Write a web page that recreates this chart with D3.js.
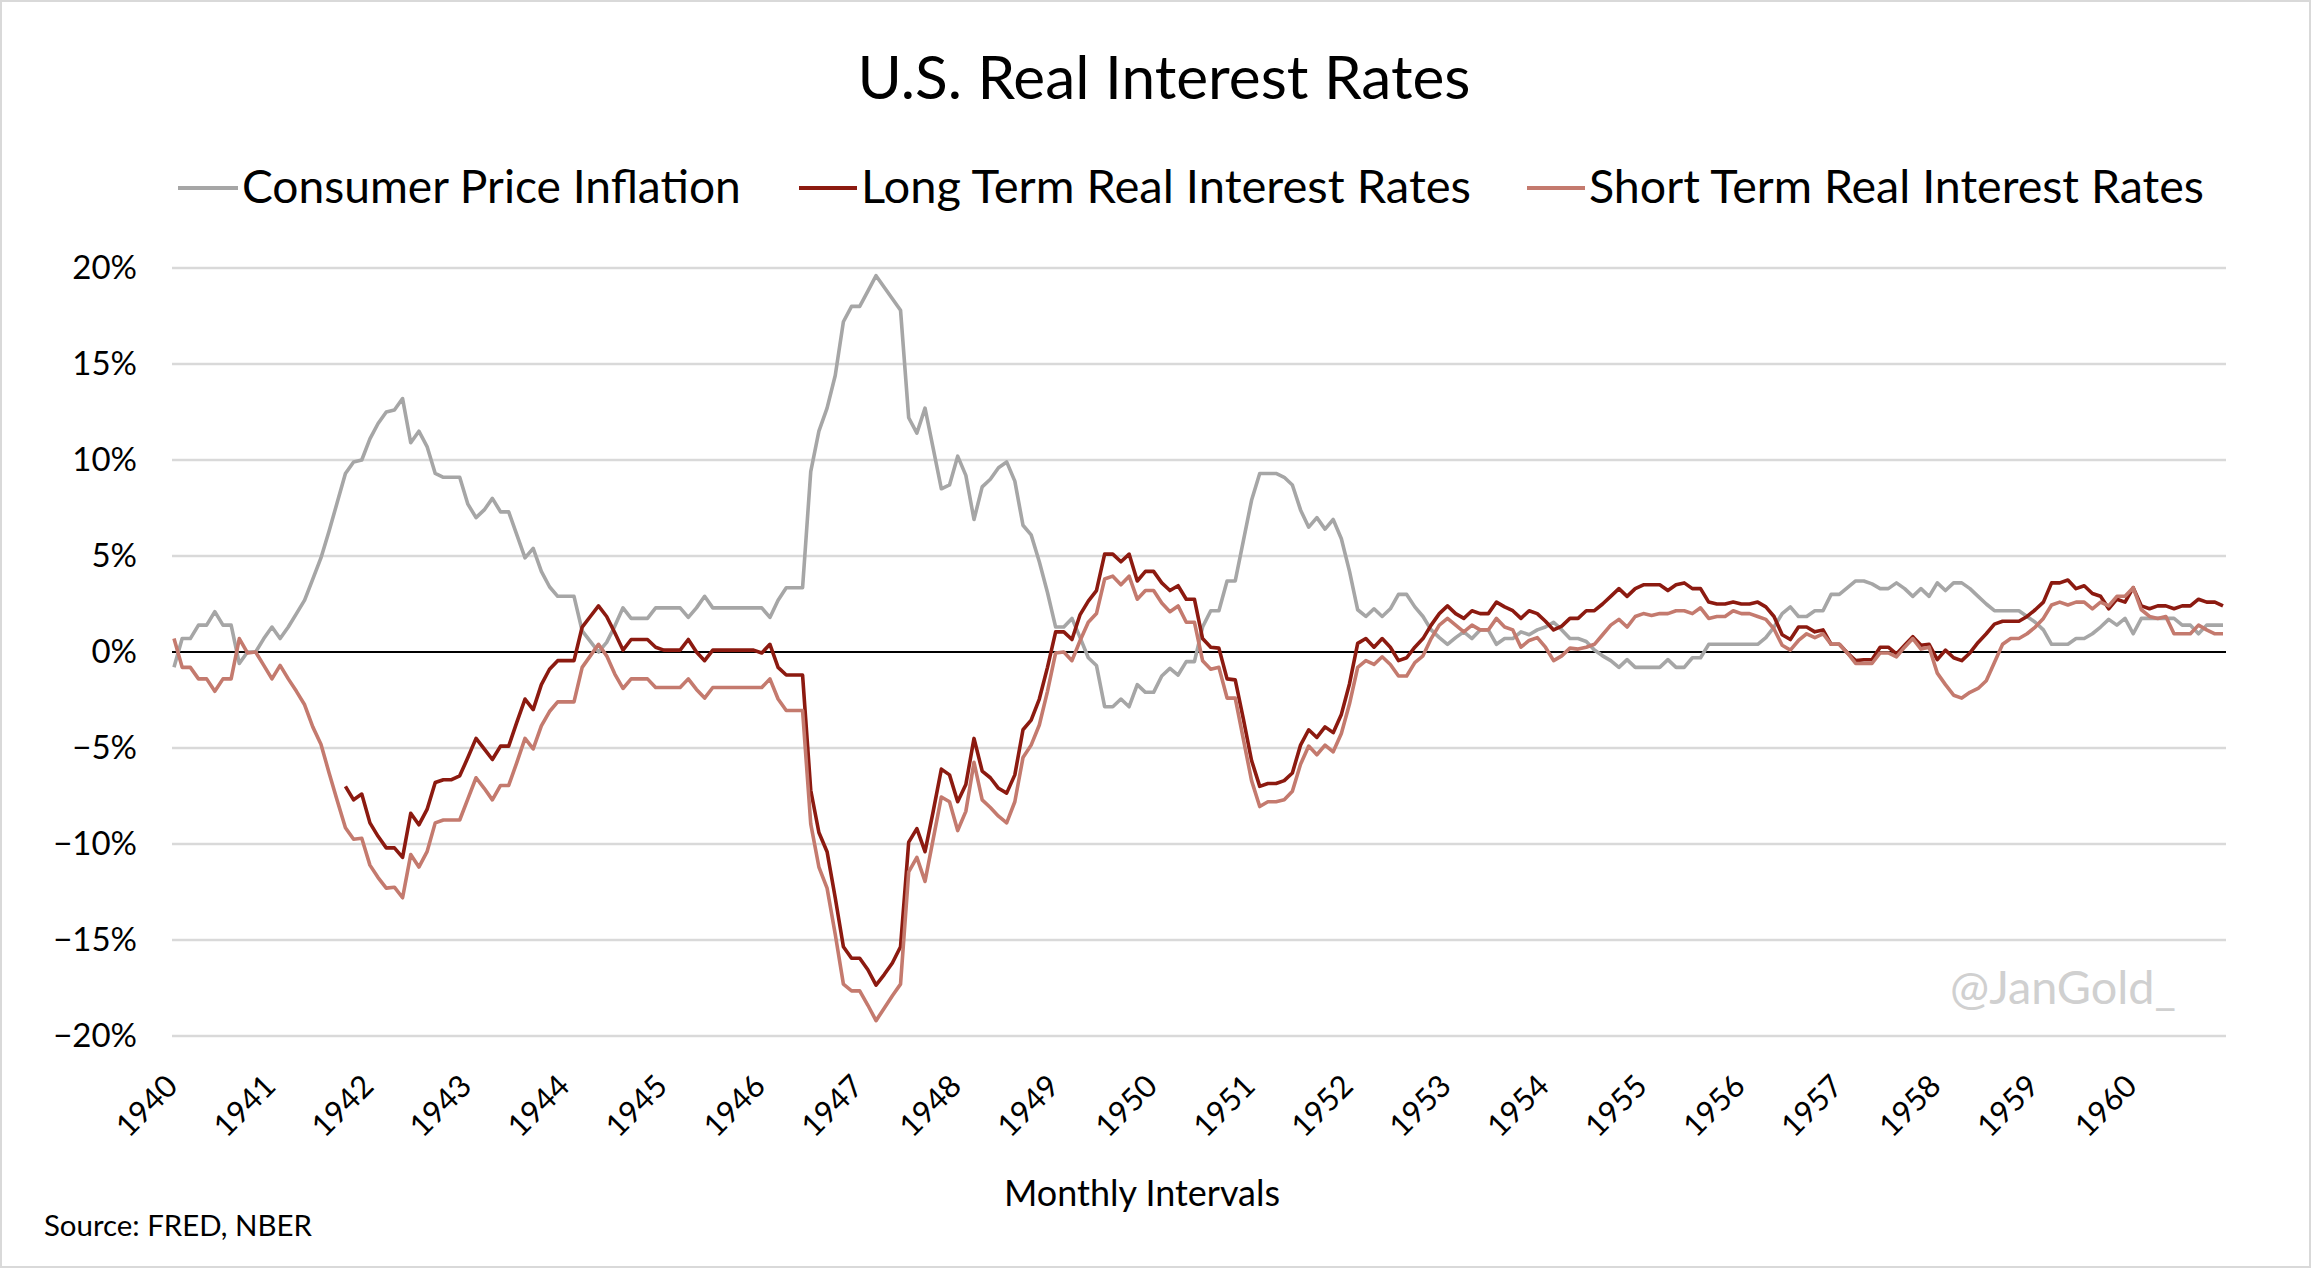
<!DOCTYPE html>
<html>
<head>
<meta charset="utf-8">
<script src="https://cdn.jsdelivr.net/npm/d3@7"></script>
<style>
  body { margin: 0; background: #fff; }
  svg { display: block; font-family: Lato, "Open Sans", sans-serif; }
</style>
</head>
<body>
<div id="chart"></div>
<script>
// monthly values, Jan 1940 .. Dec 1960 (percent)
const yearLabels = ["1940","1941","1942","1943","1944","1945","1946","1947","1948","1949","1950",
  "1951","1952","1953","1954","1955","1956","1957","1958","1959","1960"];

const cpiInflation = [
  -0.8, 0.7, 0.7, 1.4, 1.4, 2.1, 1.4, 1.4, -0.6, 0.0,
  0.0, 0.7, 1.3, 0.7, 1.3, 2.0, 2.7, 3.8, 4.9, 6.3,
  7.8, 9.3, 9.9, 10.0, 11.1, 11.9, 12.5, 12.6, 13.2, 10.9,
  11.5, 10.7, 9.3, 9.1, 9.1, 9.1, 7.7, 7.0, 7.4, 8.0,
  7.3, 7.3, 6.1, 4.9, 5.4, 4.2, 3.4, 2.9, 2.9, 2.9,
  1.1, 0.55, 0.0, 0.5, 1.35, 2.3, 1.75, 1.75, 1.75, 2.3,
  2.3, 2.3, 2.3, 1.8, 2.3, 2.9, 2.3, 2.3, 2.3, 2.3,
  2.3, 2.3, 2.3, 1.8, 2.7, 3.35, 3.35, 3.35, 9.4, 11.5,
  12.7, 14.4, 17.2, 18.0, 18.0, 18.8, 19.6, 19.0, 18.4, 17.8,
  12.2, 11.4, 12.7, 10.6, 8.5, 8.7, 10.2, 9.2, 6.9, 8.6,
  9.0, 9.6, 9.9, 8.9, 6.6, 6.1, 4.7, 3.1, 1.3, 1.3,
  1.75, 0.75, -0.3, -0.7, -2.85, -2.85, -2.45, -2.85, -1.7, -2.1,
  -2.1, -1.25, -0.85, -1.2, -0.5, -0.5, 1.3, 2.15, 2.15, 3.7,
  3.7, 5.8, 7.9, 9.3, 9.3, 9.3, 9.1, 8.7, 7.4, 6.5,
  7.0, 6.4, 6.9, 5.9, 4.2, 2.2, 1.85, 2.25, 1.85, 2.25,
  3.0, 3.0, 2.35, 1.85, 1.15, 0.75, 0.4, 0.75, 1.05, 0.7,
  1.15, 1.15, 0.4, 0.7, 0.7, 1.05, 0.9, 1.15, 1.3, 1.55,
  1.15, 0.7, 0.7, 0.55, 0.1, -0.2, -0.45, -0.8, -0.4, -0.8,
  -0.8, -0.8, -0.8, -0.4, -0.8, -0.8, -0.3, -0.3, 0.4, 0.4,
  0.4, 0.4, 0.4, 0.4, 0.4, 0.75, 1.3, 2.0, 2.35, 1.85,
  1.85, 2.15, 2.15, 3.0, 3.0, 3.35, 3.7, 3.7, 3.55, 3.3,
  3.3, 3.6, 3.3, 2.9, 3.3, 2.9, 3.6, 3.2, 3.6, 3.6,
  3.3, 2.9, 2.5, 2.15, 2.15, 2.15, 2.15, 1.85, 1.55, 1.15,
  0.4, 0.4, 0.4, 0.7, 0.7, 0.95, 1.3, 1.7, 1.4, 1.75,
  0.95, 1.75, 1.75, 1.75, 1.75, 1.75, 1.4, 1.4, 0.95, 1.4,
  1.4, 1.4
];

const longTermReal = [
  null, null, null, null, null, null, null, null, null, null,
  null, null, null, null, null, null, null, null, null, null,
  null, -7.0, -7.7, -7.4, -8.9, -9.6, -10.2, -10.2, -10.7, -8.4,
  -9.0, -8.2, -6.8, -6.65, -6.65, -6.45, -5.5, -4.5, -5.05, -5.6,
  -4.9, -4.9, -3.65, -2.45, -3.0, -1.7, -0.9, -0.45, -0.45, -0.45,
  1.3, 1.85, 2.4, 1.85, 1.0, 0.1, 0.65, 0.65, 0.65, 0.25,
  0.1, 0.1, 0.1, 0.65, 0.0, -0.45, 0.1, 0.1, 0.1, 0.1,
  0.1, 0.1, -0.05, 0.4, -0.8, -1.2, -1.2, -1.2, -7.2, -9.4,
  -10.4, -12.8, -15.35, -15.95, -15.95, -16.55, -17.35, -16.8, -16.2, -15.35,
  -9.9, -9.2, -10.4, -8.3, -6.1, -6.4, -7.8, -6.9, -4.5, -6.2,
  -6.55, -7.1, -7.35, -6.4, -4.05, -3.55, -2.45, -0.8, 1.05, 1.05,
  0.65, 1.95, 2.65, 3.2, 5.1, 5.1, 4.7, 5.1, 3.7, 4.2,
  4.2, 3.6, 3.2, 3.45, 2.75, 2.75, 0.7, 0.25, 0.2, -1.4,
  -1.45, -3.5, -5.65, -7.0, -6.85, -6.85, -6.7, -6.3, -4.85, -4.05,
  -4.45, -3.9, -4.2, -3.25, -1.65, 0.45, 0.7, 0.25, 0.7, 0.25,
  -0.45, -0.3, 0.25, 0.7, 1.4, 2.0, 2.4, 2.0, 1.75, 2.15,
  2.0, 2.0, 2.6, 2.35, 2.15, 1.75, 2.15, 2.0, 1.6, 1.15,
  1.35, 1.75, 1.75, 2.15, 2.15, 2.5, 2.9, 3.3, 2.9, 3.3,
  3.5, 3.5, 3.5, 3.2, 3.5, 3.6, 3.3, 3.3, 2.6, 2.5,
  2.5, 2.6, 2.5, 2.5, 2.6, 2.35, 1.85, 0.9, 0.65, 1.3,
  1.3, 1.05, 1.15, 0.4, 0.4, -0.05, -0.45, -0.4, -0.4, 0.25,
  0.25, -0.1, 0.35, 0.8, 0.35, 0.4, -0.4, 0.1, -0.3, -0.45,
  -0.05, 0.5, 0.95, 1.45, 1.6, 1.6, 1.6, 1.85, 2.2, 2.6,
  3.6, 3.6, 3.75, 3.3, 3.45, 3.05, 2.9, 2.25, 2.75, 2.6,
  3.35, 2.4, 2.25, 2.4, 2.4, 2.25, 2.4, 2.4, 2.75, 2.6,
  2.6, 2.4
];

const shortTermReal = [
  0.7, -0.8, -0.8, -1.4, -1.4, -2.05, -1.4, -1.4, 0.7, -0.05,
  0.0, -0.7, -1.4, -0.7, -1.4, -2.05, -2.75, -3.9, -4.8, -6.3,
  -7.75, -9.15, -9.75, -9.7, -11.1, -11.75, -12.3, -12.25, -12.8, -10.55,
  -11.2, -10.4, -8.9, -8.75, -8.75, -8.75, -7.65, -6.55, -7.1, -7.7,
  -6.95, -6.95, -5.75, -4.5, -5.05, -3.85, -3.1, -2.6, -2.6, -2.6,
  -0.8, -0.2, 0.4, -0.2, -1.15, -1.9, -1.4, -1.4, -1.4, -1.85,
  -1.85, -1.85, -1.85, -1.4, -1.95, -2.4, -1.85, -1.85, -1.85, -1.85,
  -1.85, -1.85, -1.85, -1.4, -2.45, -3.05, -3.05, -3.05, -8.95, -11.2,
  -12.3, -14.7, -17.3, -17.65, -17.65, -18.4, -19.2, -18.55, -17.9, -17.3,
  -11.45, -10.7, -11.95, -9.75, -7.55, -7.8, -9.3, -8.3, -5.75, -7.7,
  -8.1, -8.55, -8.9, -7.8, -5.5, -4.85, -3.8, -2.05, -0.05, 0.0,
  -0.45, 0.6, 1.55, 2.0, 3.8, 3.95, 3.5, 3.95, 2.75, 3.2,
  3.2, 2.55, 2.1, 2.4, 1.55, 1.55, -0.45, -0.9, -0.8, -2.4,
  -2.4, -4.55, -6.7, -8.05, -7.8, -7.8, -7.7, -7.25, -5.85, -4.9,
  -5.35, -4.85, -5.2, -4.25, -2.7, -0.8, -0.45, -0.65, -0.25, -0.65,
  -1.25, -1.25, -0.55, -0.2, 0.7, 1.4, 1.75, 1.4, 1.05, 1.4,
  1.15, 1.15, 1.75, 1.3, 1.15, 0.25, 0.6, 0.75, 0.25, -0.45,
  -0.2, 0.2, 0.15, 0.25, 0.4, 0.9, 1.4, 1.7, 1.3, 1.85,
  2.0, 1.9, 2.0, 2.0, 2.15, 2.15, 2.0, 2.3, 1.75, 1.85,
  1.85, 2.15, 2.0, 2.0, 1.85, 1.7, 1.2, 0.35, 0.1, 0.6,
  0.95, 0.75, 0.95, 0.4, 0.4, -0.05, -0.6, -0.6, -0.6, -0.05,
  -0.05, -0.25, 0.25, 0.7, 0.15, 0.25, -1.1, -1.7, -2.25, -2.4,
  -2.1, -1.9, -1.5, -0.55, 0.4, 0.7, 0.7, 0.95, 1.3, 1.75,
  2.45, 2.6, 2.45, 2.6, 2.6, 2.25, 2.6, 2.4, 2.9, 2.9,
  3.35, 2.2, 1.85, 1.75, 1.85, 0.95, 0.95, 0.95, 1.4, 1.15,
  0.95, 0.95
];

const yTicks = [20, 15, 10, 5, 0, -5, -10, -15, -20];

const seriesNames = ["Consumer Price Inflation", "Long Term Real Interest Rates", "Short Term Real Interest Rates"];
const seriesColors = ["#a6a6a6", "#8c1a10", "#c47a6e"];

const width = 2311, height = 1268;
const plot = { left: 174, right: 2223, top: 268, bottom: 1036 };

// shrink/grow font-size so a text node spans the wanted width
function fitText(sel, target) {
  let fs = parseFloat(sel.attr("font-size"));
  let len = sel.node().getComputedTextLength();
  sel.attr("font-size", (fs * target / len).toFixed(2));
}

let svg = d3.select("#chart")
  .append("svg")
  .attr("width", width)
  .attr("height", height);

svg.append("rect")
  .attr("x", 1).attr("y", 1)
  .attr("width", width - 2).attr("height", height - 2)
  .attr("fill", "#fff")
  .attr("stroke", "#d9d9d9")
  .attr("stroke-width", 2);

let x = d3.scaleLinear()
  .domain([0, cpiInflation.length - 1])
  .range([plot.left, plot.right]);

let y = d3.scaleLinear()
  .domain([-20, 20])
  .range([plot.bottom, plot.top]);

// gridlines
svg.append("g")
  .selectAll("line")
  .data(yTicks.filter(d => d !== 0))
  .join("line")
    .attr("x1", plot.left - 2)
    .attr("x2", plot.right + 3)
    .attr("y1", d => y(d))
    .attr("y2", d => y(d))
    .attr("stroke", "#d9d9d9")
    .attr("stroke-width", 2.5);

// y axis labels
let yAxis = svg.append("g")
  .attr("transform", `translate(${plot.left}, 0)`)
  .call(d3.axisLeft(y).tickValues(yTicks).tickSize(0).tickPadding(37)
    .tickFormat(d => (d < 0 ? "\u2212" : "") + Math.abs(d) + "%"));
yAxis.select(".domain").remove();
yAxis.selectAll("text")
  .attr("font-family", "Lato, sans-serif")
  .attr("font-size", 33)
  .attr("fill", "#000");

// x axis labels, one per January
let xAxis = svg.append("g")
  .attr("transform", `translate(0, ${plot.bottom})`)
  .call(d3.axisBottom(x)
    .tickValues(yearLabels.map((d, i) => i * 12))
    .tickSize(0)
    .tickFormat((d, i) => yearLabels[i]));
xAxis.select(".domain").remove();
xAxis.selectAll("text")
  .attr("font-family", "Lato, sans-serif")
  .attr("font-size", 31)
  .attr("fill", "#000")
  .attr("text-anchor", "end")
  .attr("y", 0)
  .attr("dy", 0)
  .attr("transform", "translate(5, 52) rotate(-45)");

// zero line
svg.append("line")
  .attr("x1", plot.left - 2)
  .attr("x2", plot.right + 3)
  .attr("y1", y(0))
  .attr("y2", y(0))
  .attr("stroke", "#000")
  .attr("stroke-width", 2);

let line = d3.line()
  .defined(d => d !== null)
  .x((d, i) => x(i))
  .y(d => y(d));

[cpiInflation, longTermReal, shortTermReal].forEach(function (values, k) {
  svg.append("path")
    .datum(values)
    .attr("fill", "none")
    .attr("stroke", seriesColors[k])
    .attr("stroke-width", 3.6)
    .attr("stroke-linejoin", "round")
    .attr("d", line);
});

// title
let title = svg.append("text")
  .attr("x", 1164)
  .attr("y", 99)
  .attr("text-anchor", "middle")
  .attr("font-size", 58)
  .attr("fill", "#000")
  .text("U.S. Real Interest Rates");
fitText(title, 613);

// legend
let legendPos = [
  { x1: 178, x2: 238, tx: 242, w: 499 },
  { x1: 799, x2: 857, tx: 861, w: 610 },
  { x1: 1527, x2: 1585, tx: 1589, w: 615 }
];
let legend = svg.append("g");
seriesNames.forEach(function (name, k) {
  let p = legendPos[k];
  legend.append("line")
    .attr("x1", p.x1).attr("x2", p.x2)
    .attr("y1", 188).attr("y2", 188)
    .attr("stroke", seriesColors[k])
    .attr("stroke-width", 4.2);
  let t = legend.append("text")
    .attr("x", p.tx)
    .attr("y", 203)
    .attr("font-size", 44)
    .attr("fill", "#000")
    .text(name);
  fitText(t, p.w);
});

// axis title
let xTitle = svg.append("text")
  .attr("x", 1142)
  .attr("y", 1206)
  .attr("text-anchor", "middle")
  .attr("font-size", 32)
  .attr("fill", "#000")
  .text("Monthly Intervals");
fitText(xTitle, 276);

// source note
let source = svg.append("text")
  .attr("x", 44)
  .attr("y", 1236)
  .attr("font-size", 28)
  .attr("fill", "#000")
  .text("Source: FRED, NBER");
fitText(source, 268);

// watermark
let mark = svg.append("text")
  .attr("x", 1950)
  .attr("y", 1004)
  .attr("font-size", 44)
  .attr("fill", "#d0d0d0")
  .text("@JanGold_");
fitText(mark, 226);
</script>
</body>
</html>
